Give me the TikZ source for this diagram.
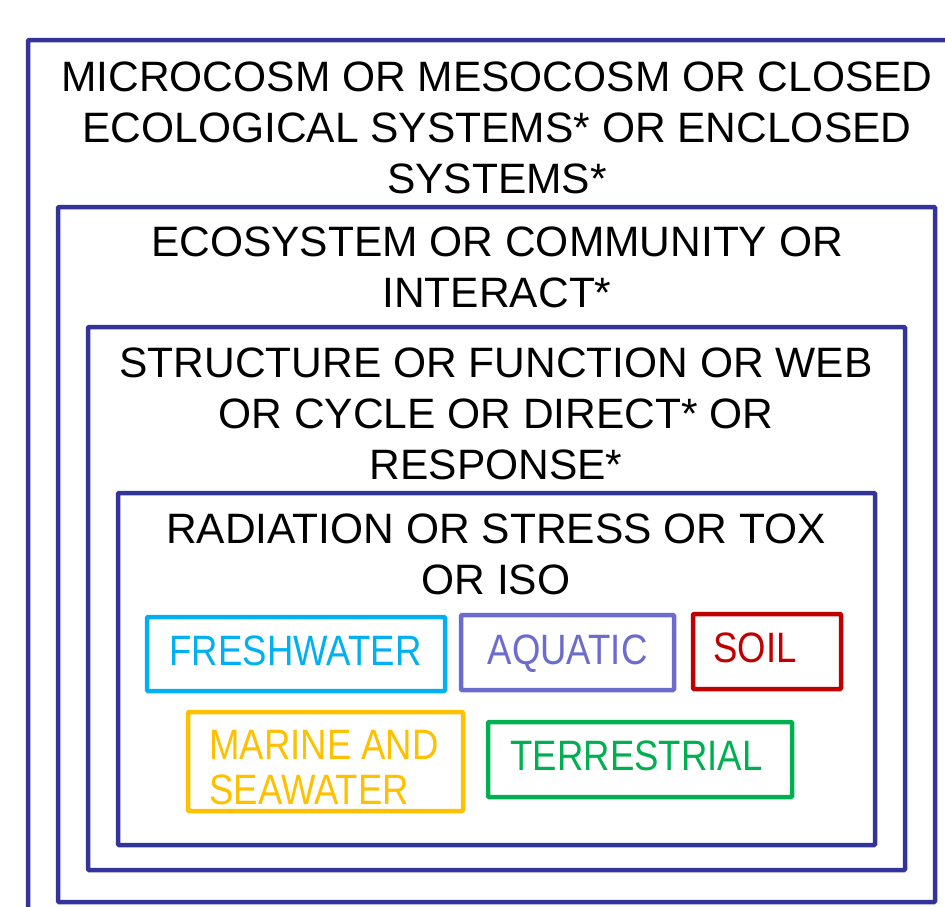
\documentclass[tikz,border=0pt]{standalone}
\usepackage{fontspec}
\setmainfont{Liberation Sans}
\newfontfamily\narrowfont[FakeStretch=0.86]{Liberation Sans}
\usetikzlibrary{positioning}

\definecolor{frameblue}{RGB}{51,51,153}
\definecolor{freshblue}{RGB}{0,176,240}
\definecolor{aquaviolet}{RGB}{108,108,206}
\definecolor{soilred}{RGB}{192,0,0}
\definecolor{marinegold}{RGB}{255,192,0}
\definecolor{terrgreen}{RGB}{0,176,80}

\tikzset{
  frame/.style={draw=frameblue, line width=4.5pt, rounded corners=1pt, anchor=north west, inner sep=0pt, outer sep=0pt},
  heading/.style={anchor=north, align=center, inner sep=0pt, font=\fontsize{42.5}{51}\selectfont},
  envbox/.style={draw=#1, line width=4.5pt, rounded corners=1pt, inner sep=0pt, outer sep=0pt},
  envtext/.style={text=#1, align=center, inner sep=0pt, font=\narrowfont\fontsize{42.5}{45}\selectfont}
}

\begin{document}
\begin{tikzpicture}[x=1pt, y=-1pt]
    \useasboundingbox (0,0) rectangle (945,906);
    % nested search frames
    \node[frame, minimum width=950, minimum height=900] (closed) at (28,40) {};
    \node[frame, minimum width=877, minimum height=695] (eco) at (58,207) {};
    \node[frame, minimum width=817, minimum height=543] (struct) at (88,327) {};
    \node[frame, minimum width=757, minimum height=352] (rad) at (118,493) {};

    \node[heading] (closedtext) at (497,61.5)
      {MICROCOSM OR MESOCOSM OR CLOSED\\ECOLOGICAL SYSTEMS* OR ENCLOSED\\SYSTEMS*};
    \node[heading] (ecotext) at (497,226.5) {ECOSYSTEM OR COMMUNITY OR\\INTERACT*};
    \node[heading] (structtext) at (496,347.5)
      {STRUCTURE OR FUNCTION OR WEB\\OR CYCLE OR DIRECT* OR\\RESPONSE*};
    \node[heading] (radtext) at (496,513.5) {RADIATION OR STRESS OR TOX\\OR ISO};

    % environments
    \node[envbox=freshblue, minimum width=298, minimum height=74] (fresh) at (296,654) {};
    \node[envbox=aquaviolet, minimum width=213, minimum height=75] (aqua) at (567.5,652.5) {};
    \node[envbox=soilred, minimum width=148, minimum height=75] (soil) at (767,651.5) {};
    \node[envbox=marinegold, minimum width=275, minimum height=99] (marine) at (325.5,761.5) {};
    \node[envbox=terrgreen, minimum width=304, minimum height=75] (terr) at (640,759.5) {};

    \node[envtext=freshblue] (freshtext) at (295.5,651) {FRESHWATER};
    \node[envtext=aquaviolet] (aquatext) at (567.5,653.5) {AQUATIC};
    \node[envtext=soilred] (soiltext) at (755,648) {SOIL};
    \node[envtext=marinegold, align=left] (marinetext) at (324,767.5) {MARINE AND\\SEAWATER};
    \node[envtext=terrgreen] (terrtext) at (636.5,755.5) {TERRESTRIAL};
\end{tikzpicture}
\end{document}
